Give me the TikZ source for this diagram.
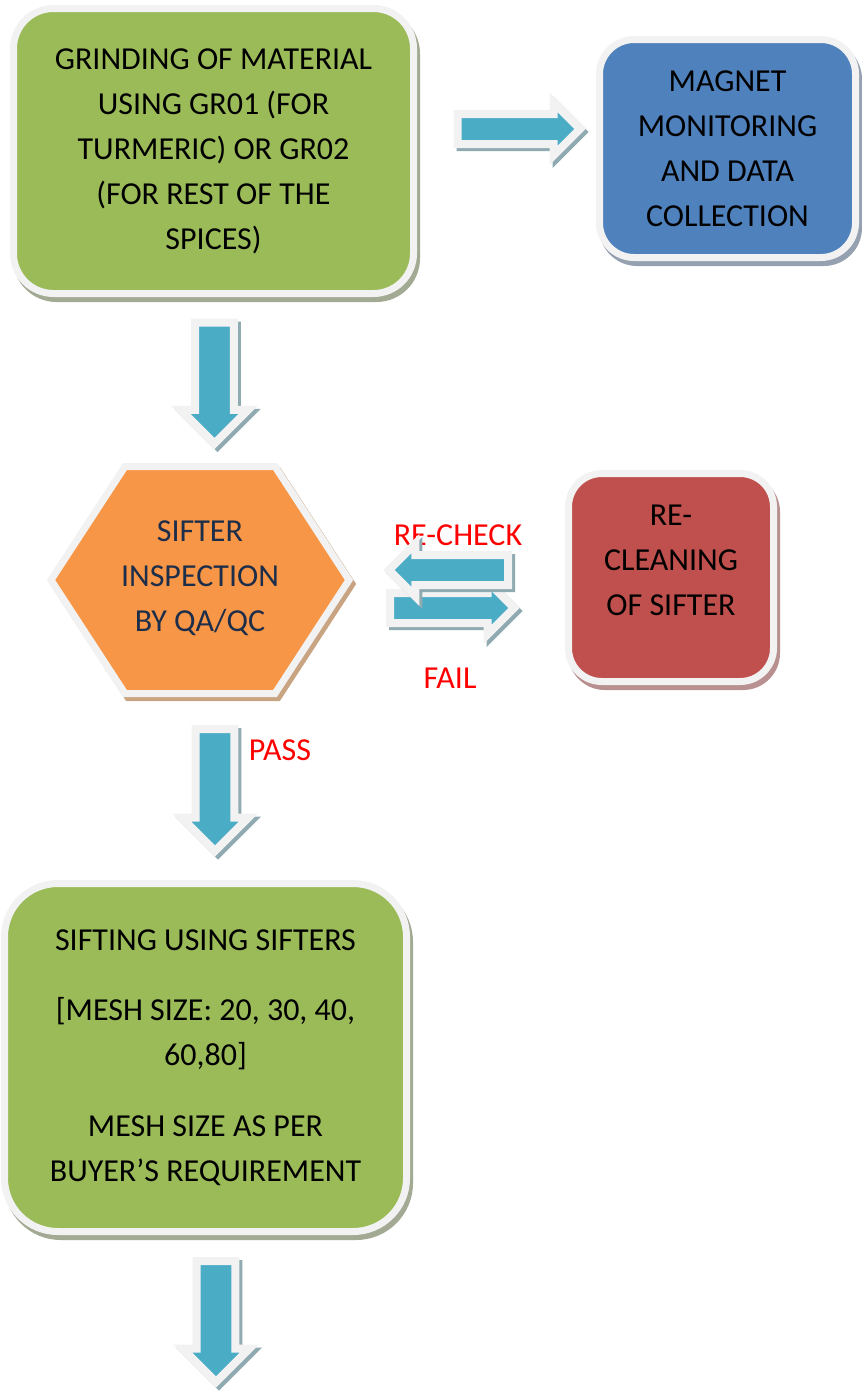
\documentclass[tikz,border=0pt]{standalone}
\usepackage{fontspec}
\setmainfont{Carlito}
\usetikzlibrary{shapes.arrows,shadows}
\definecolor{cgreen}{HTML}{9BBB59}
\definecolor{cblue}{HTML}{4F81BD}
\definecolor{corange}{HTML}{F79646}
\definecolor{cred}{HTML}{C0504D}
\definecolor{carrow}{HTML}{4BACC6}
\definecolor{cframe}{HTML}{F2F2F2}
\definecolor{shgreen}{HTML}{A3AA94}
\definecolor{shblue}{HTML}{95A0B0}
\definecolor{shorange}{HTML}{C9A482}
\definecolor{shred}{HTML}{B89090}
\definecolor{sharrow}{HTML}{8FAAB0}
\definecolor{navy}{HTML}{1C2E4A}
\begin{document}
\begin{tikzpicture}[x=0.75pt,y=-0.75pt,
  every node/.style={font=\fontsize{24pt}{33.75pt}\selectfont, inner sep=0pt, outer sep=0pt},
  box/.style={draw=cframe, line width=5.25pt, align=center,
    general shadow={shadow xshift=2.25pt, shadow yshift=-3.75pt, fill=#1, draw=#1, line width=5.25pt}},
  blockarrow/.style={single arrow, draw=cframe, fill=carrow, line width=6pt, minimum width=0pt,
    general shadow={shadow xshift=2.25pt, shadow yshift=-2.25pt, fill=sharrow, draw=sharrow, line width=6pt}},
  downarrow/.style={blockarrow, inner sep=11.44pt, single arrow head extend=10.69pt, shape border rotate=270, anchor=tail},
  siderarrow/.style={blockarrow, inner sep=8.25pt, single arrow head extend=8.6pt, anchor=tail},
  lbl/.style={text=red, anchor=base}
]
\useasboundingbox (0,0) rectangle (861,1393);

% boxes
\node[box=shgreen, fill=cgreen, rounded corners=30pt, minimum width=300pt, minimum height=213.75pt]
  (grind) at (213.5,151) {GRINDING OF MATERIAL\\USING GR01 (FOR\\TURMERIC) OR GR02\\(FOR REST OF THE\\SPICES)};
\node[box=shblue, fill=cblue, rounded corners=26pt, minimum width=192pt, minimum height=163.5pt]
  (magnet) at (727.5,148.5) {MAGNET\\MONITORING\\AND DATA\\COLLECTION};
\node[box=shred, fill=cred, rounded corners=25pt, minimum width=153.75pt, minimum height=156pt]
  (reclean) at (671,577.5) {};
\node[align=center] (recleantext) at (671,560) {RE-\\CLEANING\\OF SIFTER};
\node[box=shgreen, fill=cgreen, rounded corners=40pt, minimum width=301.5pt, minimum height=261pt]
  (sift) at (205.5,1057.5) {SIFTING USING SIFTERS\\[19pt][MESH SIZE: 20, 30, 40,\\60,80]\\[19pt]MESH SIZE AS PER\\BUYER’S REQUIREMENT};

% hexagon
\draw[draw=shorange, fill=shorange, line width=5.25pt, shift={(3,4)}]
  (51,580) -- (125,466.5) -- (275,466.5) -- (349,580) -- (275,693.5) -- (125,693.5) -- cycle;
\draw[draw=cframe, fill=corange, line width=5.25pt]
  (51,580) -- (125,466.5) -- (275,466.5) -- (349,580) -- (275,693.5) -- (125,693.5) -- cycle;
\node[align=center, text=navy] (insp) at (200,578) {SIFTER\\INSPECTION\\BY QA/QC};

% labels
\node[lbl] (lrecheck) at (458,545) {RE-CHECK};
\node[lbl] (lfail) at (450,688) {FAIL};
\node[lbl] (lpass) at (280,760) {PASS};

% block arrows
\node[siderarrow, minimum height=91.9pt] (a1) at (457.5,129) {};
\node[downarrow, minimum height=90.75pt] (d1) at (214.5,322.5) {};
\node[siderarrow, minimum height=93pt] (afail) at (390,608) {};
\node[siderarrow, shape border rotate=180, minimum height=89.25pt] (arecheck) at (508,570) {};
\node[downarrow, minimum height=91.5pt] (d2) at (215,729) {};
\node[downarrow, minimum height=90.75pt] (d3) at (216,1261) {};
\end{tikzpicture}
\end{document}
